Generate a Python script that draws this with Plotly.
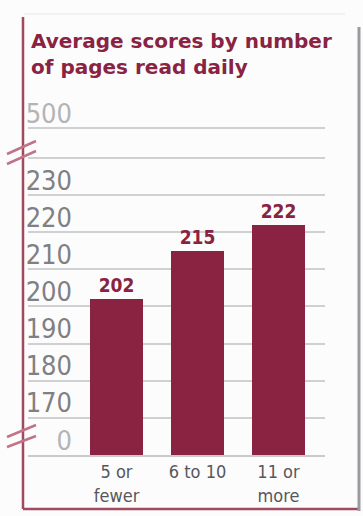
import plotly.graph_objects as go

# Average score per daily reading group
categories = ["5 or<br>fewer", "6 to 10", "11 or<br>more"]
scores = [202, 215, 222]

# Broken value axis: 160 is drawn as the "0" baseline, 248 stands in for 500
tick_values = [160, 170, 180, 190, 200, 210, 220, 230, 240, 248]
tick_labels = ["0", "170", "180", "190", "200", "210", "220", "230", "", "500"]

W, H = 363, 516
MAROON = "#8a2342"
NARROW = "DejaVu Sans Condensed, Liberation Sans Narrow, sans-serif"


def px(x):
    return x / W


def py(y):
    return (H - y) / H


light = {"0", "500"}
ticktext = [
    f'<span style="color:#b3b4b6">{t}</span>' if t in light else t
    for t in tick_labels
]

fig = go.Figure(
    go.Bar(
        x=list(range(len(categories))),
        y=scores,
        width=0.65,
        marker=dict(color=MAROON, line=dict(width=0)),
        text=[str(s) for s in scores],
        textposition="outside",
        textfont=dict(family=NARROW, size=19, color=MAROON, weight="bold"),
        cliponaxis=False,
    )
)

fig.update_layout(
    width=W,
    height=H,
    margin=dict(l=0, r=0, t=0, b=0, autoexpand=False),
    paper_bgcolor="#fcfcfd",
    plot_bgcolor="rgba(0,0,0,0)",
    showlegend=False,
    bargap=0,
    xaxis=dict(
        domain=[px(28), px(325)],
        range=[-1.093, 2.574],
        tickvals=list(range(len(categories))),
        ticktext=categories,
        tickfont=dict(family=NARROW, size=18, color="#55575a"),
        showgrid=False,
        zeroline=False,
        showline=True,
        linecolor="#c9cacc",
        linewidth=1.5,
        ticks="",
        automargin=False,
        fixedrange=True,
    ),
    yaxis=dict(
        domain=[py(455), py(120.7)],
        range=[160, 250],
        tickvals=tick_values,
        ticktext=ticktext,
        ticklabelposition="outside top",
        ticklabelstandoff=-45,
        ticklabelshift=4,
        tickfont=dict(family=NARROW, size=27, color="#7f8083"),
        showgrid=True,
        gridcolor="#cfd0d2",
        gridwidth=1.5,
        zeroline=False,
        showline=False,
        ticks="",
        automargin=False,
        fixedrange=True,
    ),
)

fig.add_annotation(
    xref="paper", yref="paper",
    x=px(29), y=py(27),
    xanchor="left", yanchor="top",
    align="left",
    showarrow=False,
    text="Average scores by number<br>of pages read daily",
    font=dict(family="DejaVu Sans, sans-serif", size=20,
              color=MAROON, weight="bold"),
)

# Frame around the graphic
frame = [
    (23, 17, 23, 509, "#a04a60", 2.5),
    (23, 509, 358, 509, "#a04a60", 2.5),
    (359, 27, 359, 511, "#9a9b9e", 3),
    (24, 14, 345, 14, "#e4e6ec", 1),
]
for x0, y0, x1, y1, c, w in frame:
    fig.add_shape(type="line", xref="paper", yref="paper",
                  x0=px(x0), y0=py(y0), x1=px(x1), y1=py(y1),
                  line=dict(color=c, width=w))

# Axis break marks
for ya, yb in [(154, 141), (164, 151), (437, 425), (447, 436)]:
    fig.add_shape(type="line", xref="paper", yref="paper",
                  x0=px(7), y0=py(ya), x1=px(36), y1=py(yb),
                  line=dict(color="#c07587", width=2.5))

fig.write_html("out.html")
